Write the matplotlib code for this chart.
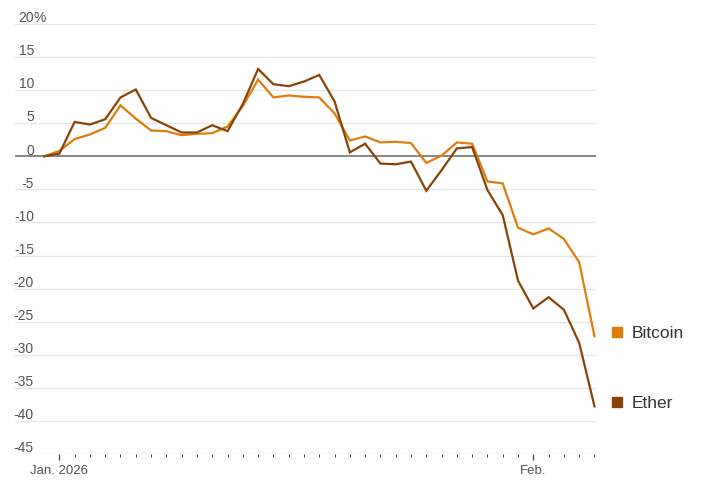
import pandas as pd
import matplotlib.pyplot as plt
import matplotlib.dates as mdates
from matplotlib.transforms import offset_copy, blended_transform_factory

plt.rcParams['font.family'] = ['Liberation Sans', 'DejaVu Sans']

# daily % change since Dec. 31, 2025
dates = pd.date_range('2025-12-31', '2026-02-05', freq='D')
btc = [0, 0.8, 2.6, 3.3, 4.3, 7.7, 5.7, 3.9, 3.8, 3.2, 3.4, 3.5, 4.5, 7.6,
       11.6, 8.9, 9.2, 9.0, 8.9, 6.5, 2.4, 3.0, 2.1, 2.2, 2.0, -1.0, 0.1,
       2.1, 1.9, -3.8, -4.1, -10.8, -11.8, -10.9, -12.5, -16.0, -27.2]
eth = [0, 0.4, 5.2, 4.8, 5.6, 8.9, 10.1, 5.8, 4.7, 3.6, 3.6, 4.7, 3.8, 7.9,
       13.2, 10.9, 10.6, 11.3, 12.3, 8.3, 0.6, 1.9, -1.1, -1.2, -0.8, -5.2,
       -2.1, 1.2, 1.4, -5.1, -8.9, -18.8, -23.0, -21.3, -23.2, -28.2, -37.8]
yticks = list(range(-45, 25, 5))
series = [('Bitcoin', btc, '#e07c0c'), ('Ether', eth, '#8a4306')]

fig = plt.figure(figsize=(7.09, 4.85), dpi=100)
ax = fig.add_axes([15/709, 30/485, 581/709, 430/485])

x0 = mdates.date2num(pd.Timestamp('2026-01-01'))
ax.set_xlim(x0 - 2.9, x0 + 35.1)
ax.set_ylim(-45, 20)

for v in yticks:
    if v == 0:
        ax.axhline(v, color='#666666', lw=1.1, zorder=1)
    else:
        ax.axhline(v, color='#e6e6e6', lw=0.9, zorder=0)

trans = blended_transform_factory(ax.transAxes, ax.transData)
lx = 19/581
for v in yticks:
    ax.annotate(str(v), xy=(lx, v), xycoords=trans, xytext=(0, 2),
                textcoords='offset points', ha='right', va='baseline',
                fontsize=10, color='#555555')
ax.annotate('%', xy=(lx, 20), xycoords=trans, xytext=(0, 2),
            textcoords='offset points', ha='left', va='baseline',
            fontsize=10, color='#555555')

for name, vals, col in series:
    ax.plot(dates, vals, color=col, lw=1.6, zorder=3, solid_joinstyle='miter')
    mk = offset_copy(ax.transData, fig=fig, x=16.5, y=3, units='points')
    ax.plot([dates[-1]], [vals[-1]], marker='s', ms=7.5, color=col,
            transform=mk, clip_on=False, linestyle='none')
    ax.annotate(name, xy=(dates[-1], vals[-1]), xytext=(27, 3),
                textcoords='offset points', ha='left', va='center',
                fontsize=12.5, color='#333333', annotation_clip=False)

major = [pd.Timestamp('2026-01-01'), pd.Timestamp('2026-02-01')]
minor = [d for d in dates[2:] if d not in major]
ax.set_xticks(major)
ax.set_xticklabels(['Jan. 2026', 'Feb.'], fontsize=9.5, color='#555555')
ax.set_xticks(minor, minor=True)
ax.tick_params(axis='x', which='major', length=4.5, width=0.9, color='#444444', pad=3)
ax.tick_params(axis='x', which='minor', length=2.2, width=0.7, color='#444444')
ax.tick_params(axis='y', left=False, labelleft=False)
for s in ax.spines.values():
    s.set_visible(False)

fig.savefig('out.png', dpi=100)
